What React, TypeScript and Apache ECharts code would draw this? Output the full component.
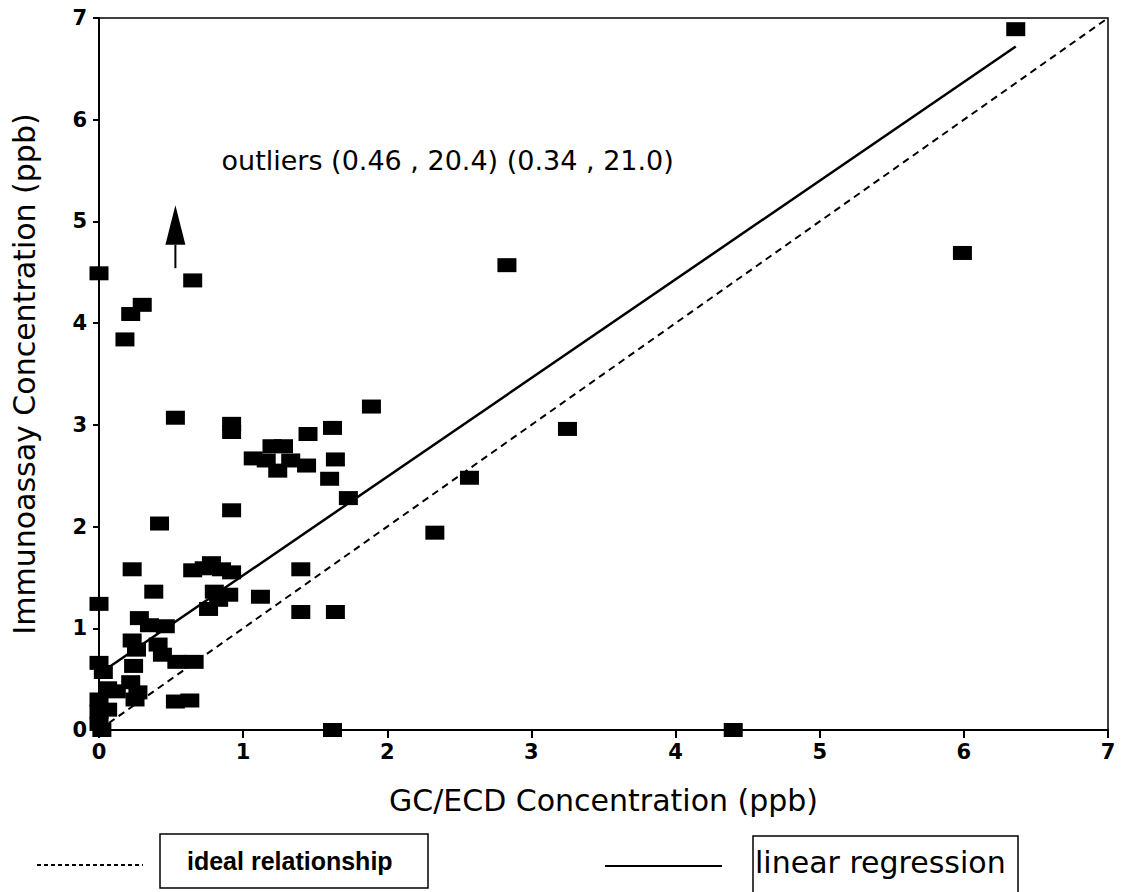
import React, { useEffect, useRef } from "react";
import * as echarts from "echarts";

// GC/ECD concentration (ppb) for each sample
const gcEcd = [
  6.36, 5.99, 2.83, 3.25, 2.57, 2.33, 4.4, 1.62, 0.0, 0.65,
  0.3, 0.22, 0.18, 0.53, 0.92, 0.92, 1.89, 1.62, 1.45, 1.64,
  1.6, 1.73, 0.92, 0.42, 1.07, 1.2, 1.28, 1.16, 1.33, 1.24,
  1.44, 1.4, 1.4, 1.64, 1.12, 0.23, 0.38, 0.0, 0.65, 0.73,
  0.78, 0.85, 0.92, 0.8, 0.9, 0.83, 0.76, 0.28, 0.35, 0.46,
  0.23, 0.26, 0.41, 0.44, 0.54, 0.66, 0.0, 0.03, 0.24, 0.22,
  0.27, 0.25, 0.06, 0.53, 0.63, 0.0, 0.0, 0.0, 0.06, 0.12,
  0.02,
];

// Immunoassay concentration (ppb) for the same samples
const immunoassay = [
  6.89, 4.69, 4.57, 2.96, 2.48, 1.94, 0.0, 0.0, 4.49, 4.42,
  4.18, 4.09, 3.84, 3.07, 3.01, 2.93, 3.18, 2.97, 2.91, 2.66,
  2.47, 2.28, 2.16, 2.03, 2.67, 2.79, 2.79, 2.65, 2.65, 2.55,
  2.6, 1.58, 1.16, 1.16, 1.31, 1.58, 1.36, 1.24, 1.57, 1.59,
  1.64, 1.58, 1.55, 1.36, 1.33, 1.28, 1.19, 1.1, 1.03, 1.02,
  0.88, 0.79, 0.84, 0.74, 0.67, 0.67, 0.66, 0.57, 0.63, 0.47,
  0.37, 0.3, 0.41, 0.28, 0.29, 0.3, 0.18, 0.06, 0.2, 0.38,
  0.0,
];

// 1:1 line and fitted regression line (end points)
const idealLine = [
  [0, 0],
  [7, 7],
];
const regressionLine = [
  [0, 0.55],
  [6.36, 6.72],
];

const outlierNote = "outliers (0.46 , 20.4) (0.34 , 21.0)";
const notePos = [0.85, 5.6];
// arrow pointing to the off-scale outliers
const arrowX = 0.53;
const arrowBase = 4.54;
const arrowNeck = 4.77;
const arrowTip = 5.16;

const wide = "'DejaVu Sans', sans-serif";
const helv = "'Liberation Sans', Arial, sans-serif";

export default function App() {
  const ref = useRef<HTMLDivElement>(null);

  useEffect(() => {
    const chart = echarts.init(ref.current!, null, { renderer: "svg" });
    const points = gcEcd.map((x, i) => [x, immunoassay[i]]);

    chart.setOption({
      animation: false,
      backgroundColor: "#fff",
      grid: {
        left: 99,
        top: 18,
        width: 1009,
        height: 712,
        show: true,
        borderColor: "#000",
        borderWidth: 1.5,
        backgroundColor: "transparent",
      },
      xAxis: {
        type: "value",
        min: 0,
        max: 7,
        interval: 1,
        name: "GC/ECD Concentration (ppb)",
        nameLocation: "middle",
        nameGap: 55,
        nameTextStyle: { fontFamily: wide, fontSize: 30, color: "#000" },
        axisLine: { lineStyle: { color: "#000", width: 2 } },
        axisTick: { length: 8, lineStyle: { color: "#000", width: 2 } },
        axisLabel: {
          fontFamily: wide,
          fontSize: 21,
          fontWeight: "bold",
          color: "#000",
          margin: 11,
        },
        splitLine: { show: false },
      },
      yAxis: {
        type: "value",
        min: 0,
        max: 7,
        interval: 1,
        name: "Immunoassay Concentration (ppb)",
        nameLocation: "middle",
        nameGap: 60,
        nameTextStyle: { fontFamily: wide, fontSize: 30, color: "#000" },
        axisLine: { lineStyle: { color: "#000", width: 2 } },
        axisTick: { length: 6, lineStyle: { color: "#000", width: 2 } },
        axisLabel: {
          fontFamily: wide,
          fontSize: 21,
          fontWeight: "bold",
          color: "#000",
          margin: 12,
        },
        splitLine: { show: false },
      },
      series: [
        {
          name: "ideal relationship",
          type: "line",
          data: idealLine,
          symbol: "none",
          lineStyle: { color: "#000", width: 2, type: [7, 5] },
          z: 2,
        },
        {
          name: "linear regression",
          type: "line",
          data: regressionLine,
          symbol: "none",
          lineStyle: { color: "#000", width: 2.5 },
          z: 2,
        },
        {
          name: "samples",
          type: "scatter",
          data: points,
          symbol: "rect",
          symbolSize: [19, 14],
          itemStyle: { color: "#000", opacity: 1 },
          clip: false,
          z: 3,
        },
      ],
    });

    const toPx = (p: number[]) => chart.convertToPixel({ gridIndex: 0 }, p) as number[];
    const note = toPx(notePos);
    const base = toPx([arrowX, arrowBase]);
    const neck = toPx([arrowX, arrowNeck]);
    const tip = toPx([arrowX, arrowTip]);

    chart.setOption({
      graphic: [
        {
          type: "text",
          x: note[0],
          y: note[1],
          style: {
            text: outlierNote,
            font: `27px ${wide}`,
            fill: "#000",
            verticalAlign: "middle",
          },
        },
        {
          type: "line",
          shape: { x1: base[0], y1: base[1], x2: neck[0], y2: neck[1] },
          style: { stroke: "#000", lineWidth: 2 },
        },
        {
          type: "polygon",
          shape: {
            points: [
              [tip[0], tip[1]],
              [neck[0] - 10, neck[1]],
              [neck[0] + 10, neck[1]],
            ],
          },
          style: { fill: "#000" },
        },
        // legend: dashed sample + boxed label
        {
          type: "line",
          shape: { x1: 37, y1: 865, x2: 143, y2: 865 },
          style: { stroke: "#000", lineWidth: 2, lineDash: [4, 3] },
        },
        {
          type: "rect",
          shape: { x: 160, y: 834, width: 268, height: 54 },
          style: { fill: "#fff", stroke: "#000", lineWidth: 1.5 },
        },
        {
          type: "text",
          x: 187,
          y: 861,
          style: {
            text: "ideal relationship",
            font: `bold 25px ${helv}`,
            fill: "#000",
            verticalAlign: "middle",
          },
        },
        // legend: solid sample + boxed label
        {
          type: "line",
          shape: { x1: 605, y1: 866, x2: 722, y2: 866 },
          style: { stroke: "#000", lineWidth: 2 },
        },
        {
          type: "rect",
          shape: { x: 753, y: 836, width: 265, height: 70 },
          style: { fill: "#fff", stroke: "#000", lineWidth: 1.5 },
        },
        {
          type: "text",
          x: 755,
          y: 862,
          style: {
            text: "linear regression",
            font: `30px ${wide}`,
            fill: "#000",
            verticalAlign: "middle",
          },
        },
      ],
    });

    return () => chart.dispose();
  }, []);

  return (
    <div
      ref={ref}
      style={{ position: "fixed", left: 0, top: 0, width: 1132, height: 892 }}
    />
  );
}
